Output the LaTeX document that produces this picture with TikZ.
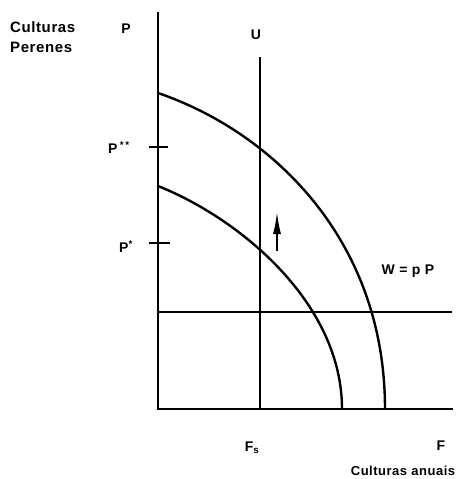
\documentclass[tikz,border=0pt]{standalone}
\usepackage{fontspec}
\setmainfont{Liberation Sans}[LetterSpace=4]
\usetikzlibrary{arrows.meta,positioning}

\begin{document}
\begin{tikzpicture}[x=1pt,y=-1pt,
  lbl/.style={inner sep=0pt, font=\bfseries\fontsize{14}{20}\selectfont},
  axisline/.style={line width=1.5pt},
  curve/.style={line width=2.4pt, line cap=round}]
\useasboundingbox (0,0) rectangle (467,479);
\coordinate (o) at (158,409);
\coordinate (ptop) at (158,12);
\coordinate (fend) at (453,409);
\coordinate (utop) at (260,57);
\coordinate (ubot) at (260,409);
\coordinate (hl) at (158,312);
\coordinate (hr) at (452,312);
\coordinate (tss) at (158,147);
\coordinate (ts) at (158,243);
\coordinate (a0) at (277,251);
\coordinate (a1) at (277,212);
% axes and lines
\draw[axisline] (ptop) -- (o) -- (fend);
\draw[line width=1.2pt] (utop) -- (ubot);
\draw[axisline] (hl) -- (hr);
\draw[axisline] ([xshift=-9pt]tss) -- ([xshift=10pt]tss);
\draw[axisline] ([xshift=-9pt]ts) -- ([xshift=12pt]ts);
% frontiers
\draw[curve] (158,93) .. controls (271.5,131.8) and (385,239) .. (385,409);
\draw[curve] (158,186) .. controls (241.5,219.4) and (342,304) .. (342,409);
\draw[line width=1.6pt, -{Latex[length=22pt,width=8pt]}] (a0) -- (a1);
% labels
\node[lbl, anchor=north west, align=left, font=\bfseries\fontsize{15}{20}\selectfont] (cp) at (10,21) {Culturas\\Perenes};
\node[lbl] (plbl) at (126,29) {P};
\node[lbl] (ulbl) at (256,35) {U};
\node[lbl, anchor=west] (pss) at (108,148) {P\,\textsuperscript{*\,*}};
\node[lbl, anchor=west] (ps) at (119,247) {P\textsuperscript{*}};
\node[lbl] (w) at (408,271) {W = p P};
\node[lbl] (fs) at (252,448) {F\textsubscript{s}};
\node[lbl] (f) at (441,446) {F};
\node[lbl, font=\bfseries\fontsize{13}{16}\selectfont] (ca) at (403,471) {Culturas anuais};
\end{tikzpicture}
\end{document}
